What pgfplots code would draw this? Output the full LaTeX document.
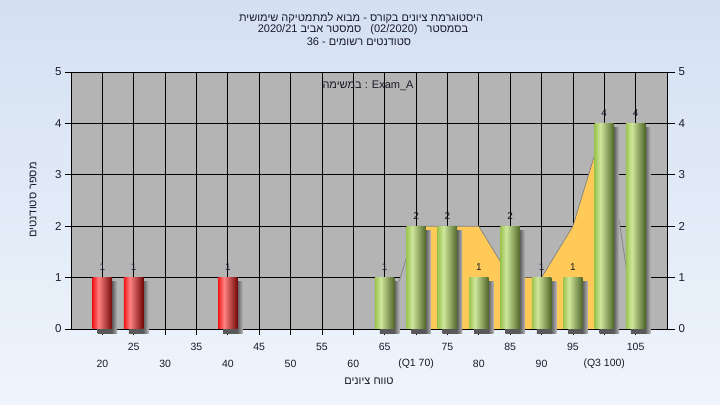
\documentclass[border=0pt]{standalone}
\usepackage{fontspec}
\setmainfont{Liberation Sans}
\newfontfamily\heb[Script=Hebrew]{Liberation Sans}
\usepackage{pgfplots}
\pgfplotsset{compat=1.18}
\TeXXeTstate=1

\definecolor{bgtop}{HTML}{D4E0F2}
\definecolor{bgbot}{HTML}{EFF5FC}
\definecolor{plotbg}{HTML}{B4B4B4}
\definecolor{band}{HTML}{FFCA58}
\definecolor{redL}{HTML}{F01818}
\definecolor{redH}{HTML}{FF8282}
\definecolor{redD}{HTML}{720808}
\definecolor{grnL}{HTML}{9CC450}
\definecolor{grnH}{HTML}{CFE69C}
\definecolor{grnD}{HTML}{506628}
\definecolor{txt}{HTML}{1A1A2A}

\pgfdeclarehorizontalshading{redbar}{100bp}{color(0bp)=(redL); color(25bp)=(redL); color(40bp)=(redH); color(75bp)=(redD); color(100bp)=(redD)}
\pgfdeclarehorizontalshading{grnbar}{100bp}{color(0bp)=(grnL); color(25bp)=(grnL); color(40bp)=(grnH); color(75bp)=(grnD); color(100bp)=(grnD)}
\pgfdeclarehorizontalshading{shadowbar}{100bp}{color(0bp)=(black!65); color(61bp)=(black!65); color(75bp)=(plotbg); color(100bp)=(plotbg)}

% each bar is its own plot so that the shading is per bar
\pgfplotsset{
  bar base/.style={ybar, bar width=19.5bp, bar shift=0pt, draw=none},
  shadow bar/.style={bar base, shade, shading=shadowbar, xshift=5bp, yshift=-4bp},
  value bar/.style={bar base, shade, shading=#1,
    nodes near coords,
    nodes near coords style={font=\fontsize{10bp}{12bp}\selectfont, text=txt,
      anchor=south, inner sep=0pt, yshift=7bp}},
}

\begin{document}
\begin{tikzpicture}
\useasboundingbox (0,0) rectangle (720bp,405bp);
\shade[top color=bgtop, bottom color=bgbot] (0,0) rectangle (720bp,405bp);

\begin{axis}[
  at={(71bp,76bp)}, anchor=south west,
  scale only axis, width=596bp, height=257bp,
  clip=false,
  xmin=-1, xmax=18, ymin=0, ymax=5,
  axis background/.style={fill=plotbg},
  axis line style={black},
  grid=major, major grid style={black, line width=0.8pt},
  tick align=outside, major tick length=6bp,
  tick style={black, line width=0.8pt},
  xtick pos=bottom, ytick pos=left,
  ytick={0,1,2,3,4,5},
  xtick={1,3,...,17},
  xticklabels={25,35,45,55,65,75,85,95,105},
  extra x ticks={0,2,...,16},
  extra x tick labels={20,30,40,50,60,(Q1 70),80,90,(Q3 100)},
  extra x tick style={grid=major, xticklabel style={yshift=-16.5bp}},
  xticklabel style={font=\fontsize{10.5bp}{12bp}\selectfont, text=txt, anchor=center, yshift=-12bp},
  yticklabel style={font=\fontsize{11.5bp}{13bp}\selectfont, text=txt},
  /pgf/number format/assume math mode=true,
]
% area band behind the bars
\addplot[fill=plotbg, draw=none] coordinates {(9,0) (10,2)} \closedcycle;
\addplot[fill=band, draw=none] coordinates {(10,2) (11,2) (12,2) (13,1) (14,1) (15,2) (16,4)} \closedcycle;
\addplot[fill=plotbg, draw=none] coordinates {(16,4) (17,0)} \closedcycle;
\addplot[draw=black!50, line width=0.7pt] coordinates {(9,0) (10,2) (11,2) (12,2) (13,1) (14,1) (15,2) (16,4) (17,0)};

% red bars (20, 25, 40)
\addplot[shadow bar] coordinates {(0,1)};
\addplot[value bar=redbar] coordinates {(0,1)};
\addplot[shadow bar] coordinates {(1,1)};
\addplot[value bar=redbar] coordinates {(1,1)};
\addplot[shadow bar] coordinates {(4,1)};
\addplot[value bar=redbar] coordinates {(4,1)};

% green bars (65 ... 105)
\addplot[shadow bar] coordinates {(9,1)};
\addplot[value bar=grnbar] coordinates {(9,1)};
\addplot[shadow bar] coordinates {(10,2)};
\addplot[value bar=grnbar] coordinates {(10,2)};
\addplot[shadow bar] coordinates {(11,2)};
\addplot[value bar=grnbar] coordinates {(11,2)};
\addplot[shadow bar] coordinates {(12,1)};
\addplot[value bar=grnbar] coordinates {(12,1)};
\addplot[shadow bar] coordinates {(13,2)};
\addplot[value bar=grnbar] coordinates {(13,2)};
\addplot[shadow bar] coordinates {(14,1)};
\addplot[value bar=grnbar] coordinates {(14,1)};
\addplot[shadow bar] coordinates {(15,1)};
\addplot[value bar=grnbar] coordinates {(15,1)};
\addplot[shadow bar] coordinates {(16,4)};
\addplot[value bar=grnbar] coordinates {(16,4)};
\addplot[shadow bar] coordinates {(17,4)};
\addplot[value bar=grnbar] coordinates {(17,4)};
\end{axis}

\begin{axis}[
  at={(71bp,76bp)}, anchor=south west,
  scale only axis, width=596bp, height=257bp,
  xmin=-1, xmax=18, ymin=0, ymax=5,
  axis x line=none, axis y line*=right,
  axis line style={black},
  tick align=outside, major tick length=8bp,
  tick style={black, line width=0.8pt},
  ytick={0,1,2,3,4,5},
  yticklabel style={font=\fontsize{11.5bp}{13bp}\selectfont, text=txt},
  /pgf/number format/assume math mode=true,
]
\addplot[draw=none] coordinates {(0,0)};
\end{axis}

\node[font=\fontsize{11bp}{12bp}\selectfont, text=txt] at (361bp,387bp)
  {\heb\beginR היסטוגרמת ציונים בקורס - מבוא למתמטיקה שימושית\endR};
\node[font=\fontsize{11bp}{12bp}\selectfont, text=txt] at (363bp,375bp)
  {\heb\beginR בסמסטר ~ \beginL(02/2020)\endL{} ~ סמסטר אביב \beginL2020/21\endL\endR};
\node[font=\fontsize{11bp}{12bp}\selectfont, text=txt] at (359bp,363bp)
  {\heb\beginR סטודנטים רשומים - \beginL36\endL\endR};
\node[font=\fontsize{11bp}{12bp}\selectfont, text=txt] at (368bp,319bp)
  {\heb\beginR במשימה\endR{} : Exam\_A};
\node[font=\fontsize{11bp}{12bp}\selectfont, text=txt, rotate=90] at (33bp,205bp)
  {\heb\beginR מספר סטודנטים\endR};
\node[font=\fontsize{11bp}{12bp}\selectfont, text=txt] at (369bp,24bp)
  {\heb\beginR טווח ציונים\endR};
\end{tikzpicture}
\end{document}
